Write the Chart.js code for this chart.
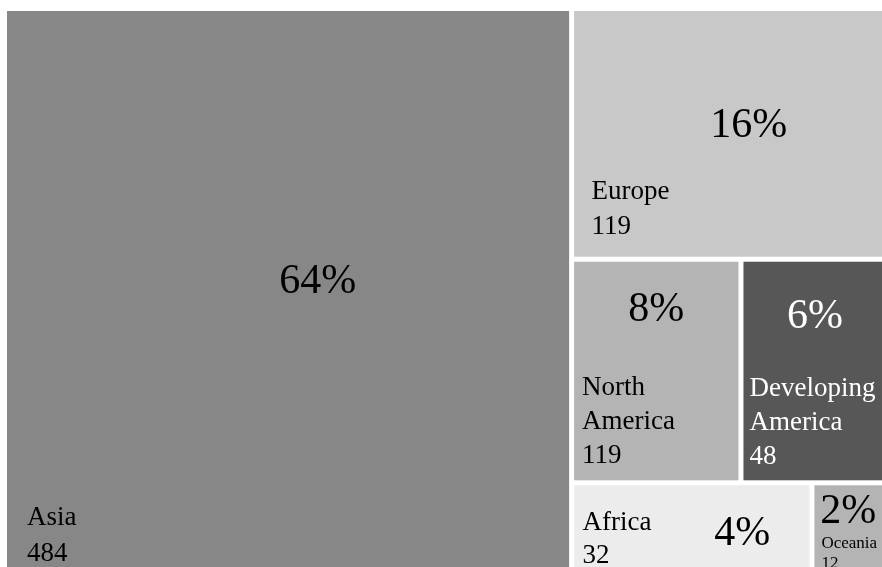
<!DOCTYPE html>
<html>
<head>
<meta charset="utf-8">
<script src="https://cdn.jsdelivr.net/npm/chart.js@4/dist/chart.umd.min.js"></script>
<style>
  html, body { margin: 0; padding: 0; background: #ffffff; overflow: hidden; }
  #wrap { position: absolute; left: 0; top: 0; width: 900px; height: 600px; }
</style>
</head>
<body>
<div id="wrap"><canvas id="grafico"></canvas></div>
<script>
// Datos del treemap
const regiones = ['Asia', 'Europe', 'North America', 'Developing America', 'Africa', 'Oceania'];
const areas = [63.9, 15.7, 7.4, 6.6, 4.8, 1.6];      // tamaño de cada celda
const porcentajes = [64, 16, 8, 6, 4, 2];            // etiqueta grande
const valores = [484, 119, 119, 48, 32, 12];         // etiqueta pequeña

// Estilo de cada celda (colores y posición de textos)
const colores = ['#878787', '#c8c8c8', '#b4b4b4', '#575757', '#ececec', '#b4b4b4'];
const coloresTexto = ['#000', '#000', '#000', '#fff', '#000', '#000'];
const estiloEtiquetas = [
  { dx: 20, abajo: 22, linea: 36, fuente: 27, px: 0.553, py: 0.493 },
  { dx: 17.5, abajo: 22.5, linea: 35, fuente: 27, px: 0.554, py: 0.511 },
  { dx: 8, abajo: 17, linea: 34, fuente: 27, px: 0.50, py: 0.272 },
  { dx: 6, abajo: 16, linea: 34, fuente: 27, px: 0.49, py: 0.304 },
  { dx: 8.5, abajo: 19.5, linea: 33, fuente: 27, px: 0.715, py: 0.611 },
  { dx: 7, abajo: 15, linea: 20, fuente: 17, px: 0.45, py: 0.383 }
];
const SEPARACION = 2.5;
const FUENTE = '"Liberation Serif", "DejaVu Serif", serif';

// Algoritmo squarify: devuelve rectángulos en fracciones [0,1] del área
function calcularTreemap(pesos, k) {
  const total = pesos.reduce((a, b) => a + b, 0);
  const a = pesos.map(p => p / total * k); // área en unidades (ancho k, alto 1)
  const peor = (fila, lado) => {
    const s = fila.reduce((x, y) => x + y, 0);
    let m = 0;
    for (const r of fila) {
      m = Math.max(m, lado * lado * r / (s * s), (s * s) / (lado * lado * r));
    }
    return m;
  };
  const rects = [];
  let x = 0, y = 0, w = k, h = 1, i = 0;
  while (i < a.length) {
    const lado = Math.min(w, h);
    const fila = [a[i]];
    let j = i + 1;
    while (j < a.length && peor([...fila, a[j]], lado) <= peor(fila, lado)) {
      fila.push(a[j]);
      j++;
    }
    const s = fila.reduce((p, q) => p + q, 0);
    if (w >= h) {
      const cw = s / h;
      let cy = y;
      fila.forEach(v => { const ch = v / cw; rects.push({ x: x, y: cy, w: cw, h: ch }); cy += ch; });
      x += cw; w -= cw;
    } else {
      const rh = s / w;
      let cx = x;
      fila.forEach(v => { const rw = v / rh; rects.push({ x: cx, y: y, w: rw, h: rh }); cx += rw; });
      y += rh; h -= rh;
    }
    i = j;
  }
  return rects.map(r => ({ x: r.x / k, y: r.y, w: r.w / k, h: r.h }));
}

const pluginTreemap = {
  id: 'treemap',
  afterDraw(chart) {
    const ctx = chart.ctx;
    const area = chart.chartArea;
    const sx = chart.scales.x;
    const sy = chart.scales.y;
    const k = (area.right - area.left) / (area.bottom - area.top);
    const rects = calcularTreemap(areas, k);

    ctx.save();
    rects.forEach((r, i) => {
      const x0 = sx.getPixelForValue(r.x) + SEPARACION;
      const x1 = sx.getPixelForValue(r.x + r.w) - SEPARACION;
      const y0 = sy.getPixelForValue(r.y) + SEPARACION;
      const y1 = sy.getPixelForValue(r.y + r.h) - SEPARACION;
      ctx.fillStyle = colores[i];
      ctx.fillRect(x0, y0, x1 - x0, y1 - y0);

      const e = estiloEtiquetas[i];
      ctx.fillStyle = coloresTexto[i];
      ctx.textBaseline = 'alphabetic';

      // porcentaje grande
      ctx.font = '42px ' + FUENTE;
      ctx.textAlign = 'center';
      ctx.fillText(porcentajes[i] + '%', x0 + (x1 - x0) * e.px, y0 + (y1 - y0) * e.py);

      // nombre y valor abajo a la izquierda
      const lineas = regiones[i].split(' ').concat([String(valores[i])]);
      ctx.font = e.fuente + 'px ' + FUENTE;
      ctx.textAlign = 'left';
      let base = y1 - e.abajo - (lineas.length - 1) * e.linea;
      lineas.forEach(t => {
        ctx.fillText(t, x0 + e.dx, base);
        base += e.linea;
      });
    });
    ctx.restore();
  }
};

new Chart(document.getElementById('grafico'), {
  type: 'scatter',
  data: { datasets: [] },
  options: {
    responsive: true,
    maintainAspectRatio: false,
    animation: false,
    layout: { padding: { left: 4.5, top: 8.5, right: 8, bottom: 15 } },
    plugins: { legend: { display: false }, tooltip: { enabled: false } },
    scales: {
      x: { type: 'linear', min: 0, max: 1, display: false },
      y: { type: 'linear', min: 0, max: 1, reverse: true, display: false }
    }
  },
  plugins: [pluginTreemap]
});
</script>
</body>
</html>
